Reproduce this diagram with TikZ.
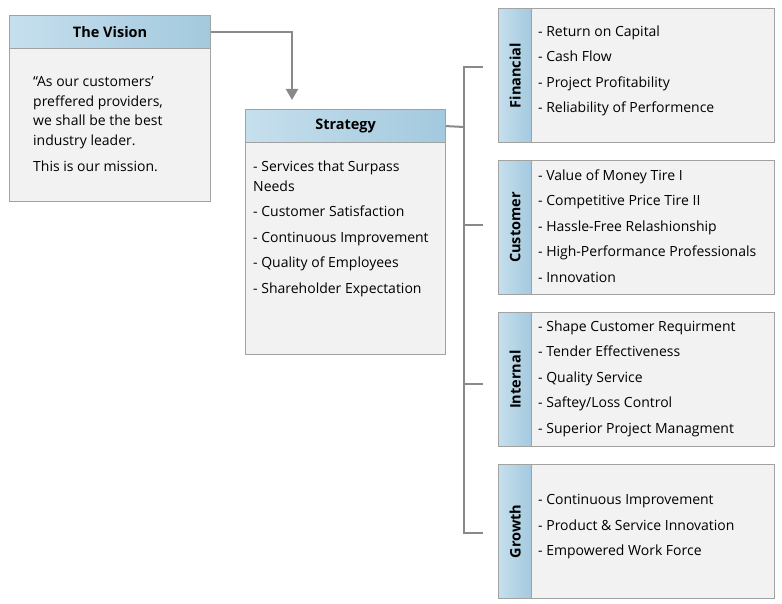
\documentclass[tikz,border=0pt]{standalone}
\usepackage{fontspec}
\setmainfont{Open Sans}
\usetikzlibrary{arrows.meta,calc}
\definecolor{hdleft}{HTML}{C6DFED}
\definecolor{hdright}{HTML}{A3C9DE}
\definecolor{bodygray}{HTML}{F2F2F2}
\definecolor{edgegray}{HTML}{A2A2A2}
\definecolor{linegray}{HTML}{898989}

\begin{document}
\begin{tikzpicture}[x=1pt,y=-1pt,
  every node/.style={font=\fontsize{14}{19.5}\selectfont,inner sep=0pt},
  bod/.style={draw=edgegray,fill=bodygray,anchor=north west,line width=1.2pt},
  hd/.style={draw=edgegray,left color=hdleft,right color=hdright,anchor=north west,line width=1.2pt,minimum height=33pt,font=\fontsize{14.5}{16}\selectfont\bfseries},
  side/.style={draw=edgegray,left color=hdleft,right color=hdright,anchor=north west,line width=1.2pt,minimum width=33pt,minimum height=134pt,font=\fontsize{14.5}{16}\selectfont\bfseries},
  lst/.style={anchor=north west,align=left,font=\fontsize{14}{25.5}\selectfont},
  conn/.style={draw=linegray,line width=2pt},
  ar/.style={conn,-{Triangle[length=11pt,width=12pt]}}]
\useasboundingbox (0,0) rectangle (782,604);

% vision and strategy
\node[bod,minimum width=201pt,minimum height=153pt] (visbd) at (9,48) {};
\node[hd,minimum width=201pt] (vishd) at (9,15) {The Vision};
\node[lst,font=\fontsize{14}{19.5}\selectfont] (vistx) at (33,76.5) {“As our customers’\\preffered providers,\\we shall be the best\\industry leader.\\[6.5pt]This is our mission.};

\node[bod,minimum width=200pt,minimum height=212pt] (stbd) at (245,142) {};
\node[hd,minimum width=200pt] (sthd) at (245,109) {Strategy};
\node[lst] (sttx) at (253,160.5) {- Services that Surpass\\[-5.5pt]Needs\\- Customer Satisfaction\\- Continuous Improvement\\- Quality of Employees\\- Shareholder Expectation};

% perspectives
\node[bod,minimum width=276pt,minimum height=134pt] (finbd) at (498,8) {};
\node[side] (finbar) at (498,8) {\rotatebox{90}{Financial}};
\node[lst] (fintx) at (538,25.5) {- Return on Capital\\- Cash Flow\\- Project Profitability\\- Reliability of Performence};

\node[bod,minimum width=276pt,minimum height=134pt] (cusbd) at (498,160) {};
\node[side] (cusbar) at (498,160) {\rotatebox{90}{Customer}};
\node[lst] (custx) at (538,169.5) {- Value of Money Tire I\\- Competitive Price Tire II\\- Hassle-Free Relashionship\\- High-Performance Professionals\\- Innovation};

\node[bod,minimum width=276pt,minimum height=134pt] (intbd) at (498,312) {};
\node[side] (intbar) at (498,312) {\rotatebox{90}{Internal}};
\node[lst] (inttx) at (538,320.5) {- Shape Customer Requirment\\- Tender Effectiveness\\- Quality Service\\- Saftey/Loss Control\\- Superior Project Managment};

\node[bod,minimum width=276pt,minimum height=134pt] (grobd) at (498,464) {};
\node[side] (grobar) at (498,464) {\rotatebox{90}{Growth}};
\node[lst] (grotx) at (538,494.5) {- Continuous Improvement\\- Product \& Service Innovation\\- Empowered Work Force};

% connectors
\coordinate (stin) at (292,100);
\coordinate (bus) at (464,127);
\coordinate (j1) at (483,67);
\coordinate (j2) at (483,225);
\coordinate (j3) at (483,384);
\coordinate (j4) at (483,533);
\draw[ar] (vishd.east) -| (stin);
\draw[conn] (sthd.east) -- (bus);
\draw[conn] (j1) -| (bus) |- (j4);
\foreach \j in {j2,j3} \draw[conn] (bus |- \j) -- (\j);
\end{tikzpicture}
\end{document}
